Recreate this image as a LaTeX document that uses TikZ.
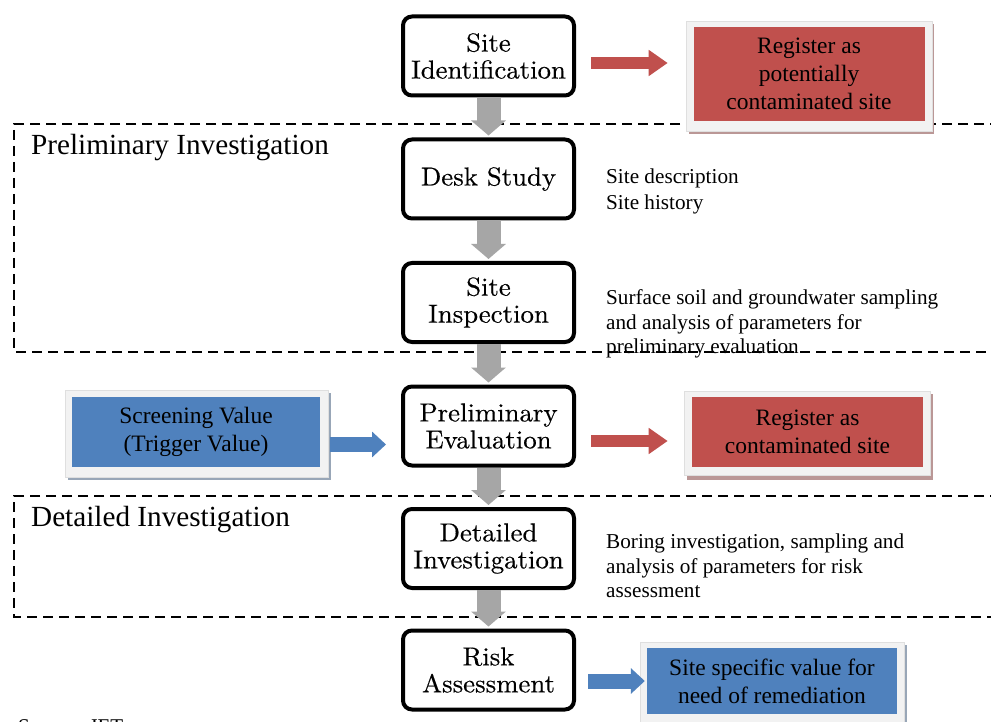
\documentclass[tikz,border=0pt]{standalone}
\usepackage{fontspec}
\newfontfamily\tnr{Liberation Serif}
\newfontfamily\lmx[FakeBold=0.4,FakeStretch=1.03]{lmroman10-regular.otf}
\usetikzlibrary{arrows.meta,calc}
\definecolor{cred}{HTML}{C0504D}
\definecolor{cblue}{HTML}{4F81BD}
\definecolor{cgray}{HTML}{A6A6A6}
\definecolor{cframe}{HTML}{F2F2F2}
\tikzset{
  stepbox/.style={draw=black, line width=4pt, rounded corners=9pt, fill=white,
    minimum width=171pt, minimum height=79pt, align=center, inner sep=0pt,
    font=\lmx\fontsize{26}{27}\selectfont},
  framebox/.style={fill=cframe, draw=gray!25, line width=0.6pt, inner sep=0pt},
  inbox/.style={inner sep=0pt, align=center, text=black,
    font=\tnr\fontsize{23.5}{28}\selectfont},
  sidetext/.style={anchor=west, align=left, inner sep=0pt,
    font=\tnr\fontsize{21.2}{24.5}\selectfont},
  headtext/.style={anchor=west, inner sep=0pt, font=\tnr\fontsize{29.2}{31}\selectfont},
  dashline/.style={line width=2.6pt, dash pattern=on 10pt off 6pt},
  grayarrow/.style={draw=cgray, line width=24pt, -{Triangle[width=34pt,length=15pt]}, shorten >=2pt},
  redarrow/.style={draw=cred, line width=12pt, -{Triangle[width=25pt,length=19pt]}},
  bluearrow/.style={draw=cblue, line width=15pt, -{Triangle[width=25pt,length=14pt]}},
}
\begin{document}
\begin{tikzpicture}[x=1pt,y=-1pt]
\clip (0,0) rectangle (991,722);
\fill[white] (0,0) rectangle (991,722);

% dashed group frames
\draw[dashline] (1000,124) -- (14,124) -- (14,352) -- (1000,352);
\draw[dashline] (1000,496) -- (14,496) -- (14,617) -- (1000,617);
\node[headtext] (hpi) at (31,148) {Preliminary Investigation};
\node[headtext] (hdi) at (31,520) {Detailed Investigation};

% main steps
\node[stepbox] (si) at (488.5,56) {Site\\Identification};
\node[stepbox] (ds) at (488.5,179) {Desk Study};
\node[stepbox] (sp) at (488.5,302.5) {Site\\Inspection};
\node[stepbox] (pe) at (488.5,426) {Preliminary\\Evaluation};
\node[stepbox] (di) at (488.5,548.5) {Detailed\\Investigation};
\node[stepbox] (ra) at (488.5,670) {Risk\\Assessment};

% gray flow arrows
\draw[grayarrow] (si.south) -- (ds.north);
\draw[grayarrow] (ds.south) -- (sp.north);
\draw[grayarrow] (sp.south) -- (pe.north);
\draw[grayarrow] (pe.south) -- (di.north);
\draw[grayarrow] (di.south) -- (ra.north);

% side texts
\node[sidetext, font=\tnr\fontsize{21.2}{26}\selectfont] (t1) at (606,191) {Site description\\Site history};
\node[sidetext] (t2) at (606,324) {Surface soil and groundwater sampling\\and analysis of parameters for\\preliminary evaluation};
\node[sidetext] (t3) at (606,566) {Boring investigation, sampling and\\analysis of parameters for risk\\assessment};

% top red box
\fill[cred!45!gray!70] (689,24) rectangle (934,134);
\node[framebox, minimum width=246pt, minimum height=110pt] (rp) at (809,76) {};
\node[inbox, fill=cred, minimum width=231pt, minimum height=94pt] (rpi) at (809,74) {Register as\\potentially\\contaminated site};

% screening value box
\fill[cblue!40!gray!70] (68,393) rectangle (331,480);
\node[framebox, minimum width=263pt, minimum height=87pt] (sv) at (196.5,433.5) {};
\node[inbox, fill=cblue, minimum width=248pt, minimum height=70pt] (svi) at (196,432) {Screening Value\\(Trigger Value)};

% middle red box
\fill[cred!45!gray!70] (687,394) rectangle (933,480);
\node[framebox, minimum width=246pt, minimum height=84pt] (rc) at (807,433) {};
\node[inbox, fill=cred, minimum width=231pt, minimum height=70pt] (rci) at (807.5,432) {Register as\\contaminated site};

% bottom blue box
\fill[cblue!40!gray!70] (643,645) rectangle (907,730);
\node[framebox, minimum width=264pt, minimum height=90pt] (ss) at (772,687) {};
\node[inbox, fill=cblue, minimum width=250pt, minimum height=66pt] (ssi) at (772,681) {Site specific value for\\need of remediation};

% side arrows
\draw[redarrow] ($(si.east)+(15,7)$) -- ($(si.east -| rp.west)+(-18,7)$);
\draw[redarrow] ($(pe.east)+(15,15)$) -- ($(pe.east -| rc.west)+(-16,15)$);
\draw[bluearrow] ($(sv.east)+(2,11)$) -- ($(sv.east -| pe.west)+(-15,11)$);
\draw[bluearrow] ($(ra.east)+(12,11)$) -- ($(ra.east -| ssi.west)+(-2,11)$);

% source note (cut off at bottom, as in the reference)
\node[anchor=base west, inner sep=0pt, font=\tnr\fontsize{21}{24}\selectfont] (src) at (18,733) {Source: JET};
\end{tikzpicture}
\end{document}
